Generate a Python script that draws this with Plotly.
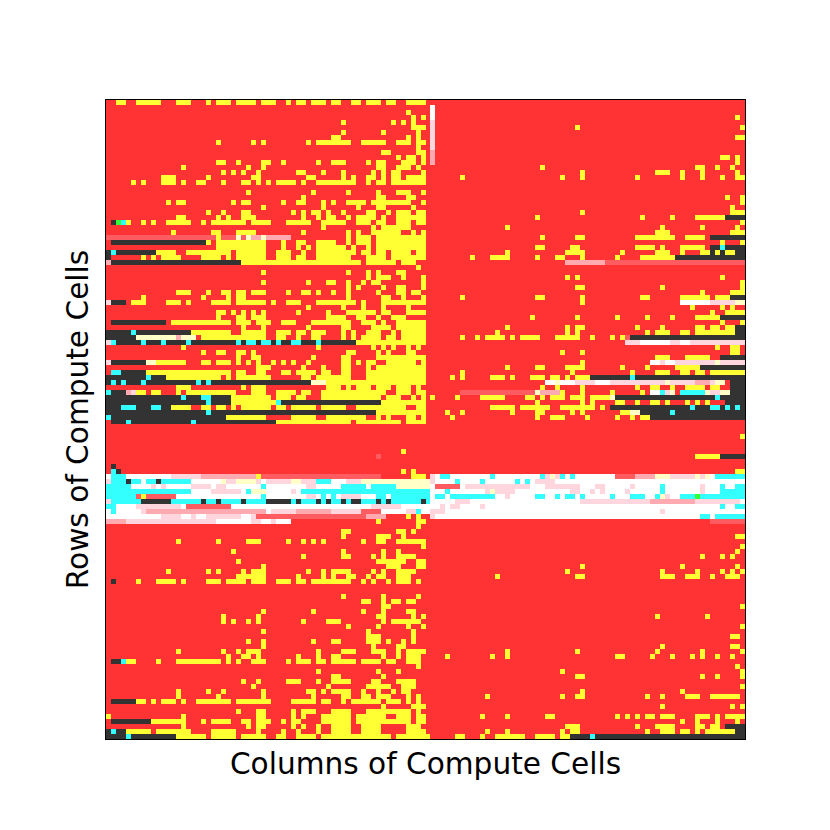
import re
import plotly.graph_objects as go

N_CELLS = 128
X_LABEL = "Columns of Compute Cells"
Y_LABEL = "Rows of Compute Cells"
STATES = ["R", "Y", "K", "C", "W", "P", "L", "M", "N", "G"]
STATE_COLORS = ["#ff3333", "#ffff33", "#333333", "#33ffff", "#ffffff",
                "#ffd6dd", "#ffaab0", "#ff5c62", "#ffffc8", "#33ff33"]

# Column numbers below were read on a ruler of 132 ticks across the frame;
# they are converted to the 128 real cell columns when the grid is filled.
RULER_TICKS = 132

# row -> runs of state codes (later runs override earlier ones)
ROW_RUNS = {
0: "Y2-3 Y6-10 Y14-16 Y20 Y23-25 Y27-30 Y32-34 Y37 Y39-40 Y42-44 Y46-47 Y50-51 Y53-56 Y58-59 Y62-65",
1: "W67",
2: "Y62 W67",
3: "Y63 Y65 W67 Y130",
4: "Y48 Y59 Y61 Y63 P67",
5: "Y63-65 P67 Y97 Y131",
6: "Y48 Y57 Y64 P67",
7: "Y46-47 Y62 Y64 P67 Y130-131",
8: "Y23 Y30 Y32 Y41 Y43-49 Y52-54 Y56-57 Y60-62 Y64-65 P67",
9: "Y64 P67",
10: "Y57-58 Y64-65 L67",
11: "Y60 Y62-63 Y65 L67 Y127-128 Y130",
12: "Y23-24 Y27 Y32-33 Y36 Y43 Y46-48 Y53 Y55-57 Y61-63 Y65 L67 Y130",
13: "Y15 Y29 Y32 Y56-57 Y60-62 Y64 Y90 Y122-123 Y126 Y129",
14: "Y24 Y26 Y28 Y31 Y39-40 Y44 Y48 Y54 Y57 Y59-60 Y65 Y98 Y113-115 Y118 Y123 Y130",
15: "Y11-13 Y20 Y30-31 Y41-42 Y48 Y50 Y53-54 Y57 Y59-60 Y62-65 Y73 Y94 Y98 Y109 Y118 Y123 Y127 Y130-131",
16: "Y5 Y7 Y11-13 Y15 Y18-19 Y24 Y28-29 Y31 Y33 Y35-38 Y40 Y43-50 Y53 Y55-57 Y59-65",
18: "Y29 Y42 Y49 Y56 Y60-62 Y65",
19: "Y40 Y56-57 Y62-63 Y128 Y131",
20: "Y12 Y14-15 Y26 Y28-29 Y36 Y39-40 Y44 Y46 Y49-52 Y54-62 Y65 Y131",
21: "Y32 Y44 Y51 Y56-57 Y63 Y129",
22: "Y20 Y24 Y28-29 Y38 Y40 Y42-43 Y45 Y48 Y53-54 Y58 Y60-62 Y64-65 Y98 Y129-131",
23: "Y14-15 Y23-25 R24 Y28-30 Y40 Y43 Y45-46 Y49 Y51-53 Y54 Y57 Y60-65 Y88-89 Y110 Y116 Y122-127 K128-131",
24: "K1 G2 C3 Y4 Y7 Y9 Y12-16 Y19 Y21-28 Y30-33 Y37-41 Y44-48 Y51-53 Y55 Y57 Y60-62 Y64-65 Y131",
25: "Y44 Y54 Y57 Y58-62 Y82 Y114 Y123 Y130",
26: "Y13 Y21-22 Y27-30 Y40 Y49 Y51 Y54 Y56-60 Y63 Y65 Y113-115 Y129-131",
27: "M0-22 Y23 M24-26 N27 M28 N29 L30-31 N32 L33-37 Y49 Y51-53 Y56-62 Y63-65 Y90 Y97-98 Y109-111 Y112-116 Y119-123 K125-131",
28: "K1-19 Y20 Y23-32 Y36 Y39-40 Y43-46 Y49 Y51-53 Y55-65 Y127 Y131",
29: "Y23-32 Y36 Y39 Y41 Y43-48 Y50 Y53 Y55-65 Y89-90 Y96-97 Y109-111 Y112 Y114 Y118-123 K125-126 C127 K128-131",
30: "K0 C1 K2-9 Y10-13 Y16-22 Y24 Y25 Y27-32 Y35-37 Y40 Y43-50 Y52-53 Y55-57 Y59-62 Y64-65 Y82 Y95-98 Y106 Y113-115 Y118 Y123-124 K125 Y126 K127 Y128-129 K130-131",
31: "K0 Y7 Y9 Y11-13 Y14 Y19-21 Y23 Y25 Y27-32 Y35-37 Y39-40 Y43-49 Y53-54 Y56-57 Y59-65 Y75 Y79-82 Y89 Y93-94 Y98 Y105 Y110-116 K117-131",
32: "L0 K1-27 Y28-51 Y53-59 Y61-63 L95-102 M103-131",
33: "Y64",
34: "Y32 Y49 Y53 Y56 Y60-61",
35: "Y53 Y56-58 Y61 Y65 Y95 Y97 Y127",
36: "Y32 Y41 Y45-46 Y49 Y52 Y54-56 Y65 Y131",
37: "Y49 Y51 Y57 Y60-61 Y65 Y97-98 Y114 Y131",
38: "Y14-16 Y20 Y24-25 Y27-28 Y30-32 Y37 Y40-41 Y43 Y46 Y49 Y55-56 Y60-61 Y63-64 Y123 Y129-131",
39: "Y7 Y19 Y25 Y27-28 Y49 Y57-58 Y61 Y65 Y73 Y89-90 Y98 Y110-111 Y118-121 Y123-124 Y126-128 K129-131",
40: "P0 K1-3 Y5-7 Y12-14 Y16 Y21 Y23-25 Y27-32 Y34 Y37-39 Y43-50 Y52 Y57-65 Y98 W118-124 P125-129 N130-131",
41: "Y41 Y48 Y52 Y57 Y62 Y120 Y127 Y129",
42: "Y22-24 Y26 Y28 Y30 Y32 Y39 Y45 Y49-54 Y57-58 Y62-65 Y125 Y128-131",
43: "Y23 Y27-28 Y30-32 Y45-48 Y51-52 Y55-56 Y59-61 Y87 Y97 Y105 Y111 Y116 Y122-126 K127-131",
44: "K1-11 Y13-25 Y27-29 Y31-33 Y36-38 Y42-49 Y52-54 Y57 Y60-65 Y127 Y131",
45: "Y28 Y32 Y41 Y48-49 Y54-58 Y60-65 Y82 Y95 Y97-98 Y109 Y114 Y122-123 Y125-126 Y128-129 K130-131",
46: "K0-4 C5 K6-16 Y17-21 Y23-25 Y28-32 Y35-37 Y39-40 Y42-44 Y48 Y50 Y53-56 Y59 Y61-65 Y80 Y95 Y97 Y111 Y113-115 Y118-119 Y122-129 K130-131",
47: "K0-5 N6-13 L14 N15-16 N17 Y19-22 Y24-32 Y35-36 Y39 Y42-43 Y48 Y50 Y52-55 Y58-59 Y61-65 Y73 Y76 Y78-81 Y83 Y85-87 Y88-89 Y93-97 Y100 Y104 Y106 M107 K108-131",
48: "P0 C1 K2-6 C7 K8-10 C11 K12-15 C16 K17-26 C27 K28 C29-30 K31 C32-33 K34 C35 K36-37 C38-39 K40-42 C43 K44-50 Y51-65 P107-109 W110-115 P116-117 W118-119 P120-131",
49: "Y15 Y43 Y54 Y57 Y59 Y62 Y64 Y126 Y129-130",
50: "Y19 Y23-24 Y27-28 Y30 Y49-50 Y55 Y58 Y62-63 Y94 Y98 Y129-130",
51: "Y27 Y30-31 Y42 Y48-49 Y55 Y57-65 Y113-115 Y119-124 K127-131",
52: "P0 K1-7 N8-9 Y10-13 Y14-15 Y19 Y20 Y23-25 Y27 Y29 Y31 Y34 Y36 Y38 Y41 Y48-49 Y51 Y53-54 Y58-63 Y65 Y98 W112-113 P114 W115-116 P117-125 N126 P127-131",
53: "Y31-33 Y40 Y44 Y48-49 Y53 Y56-65 Y82 Y88 Y90 Y95-98 Y106 Y111 Y117-122 K123-131",
54: "C1-2 K3-7 Y8-22 Y24-25 Y27-28 Y31-32 Y36-37 Y39-42 Y44-45 Y48-49 Y53-65 Y73 Y96 Y108 Y113-115 Y118-119 Y121-123 Y125-131",
55: "K0-7 C8 K9-11 Y12-22 Y25 Y27-33 Y40-41 Y43-49 Y53-65 Y71 Y73 Y79-81 Y83 Y87 Y89-90 Y92-93 Y95 Y97-99 K100-107 C108 K109-131",
56: "K0 C1 K2 C3 K4-6 C7 K8-17 C18 K19 C20 K21-41 N42-44 Y45-65 W91-92 N93 W94-96 P97-100 W101-103 P104-114 N115 P116-121 L122-124 P125 N126 P127 N127 K129-131",
57: "Y14-16 Y28 Y30-32 Y45-47 Y49 Y51-53 Y56-58 Y60-62 Y64 Y90 Y93 Y98 Y109 Y112-113 Y116 Y119-123 Y125-126 K129-131",
58: "C0 K1-3 L4 P5 Y6-7 Y9-10 Y14 Y16-26 Y30-32 Y35-38 Y40-41 Y44-57 Y60-62 Y64-65 M73-88 N89 L90-93 Y94 Y98 Y104 Y110 W112-113 C114 P115 N116 C118-123 N124 P125-126 N127-128 K129-131",
59: "K0-14 C15 K16-18 C19-20 K21-25 Y26-33 Y35-37 Y39-40 Y44-55 Y58-60 Y63 Y65 Y67 Y72 Y77-81 Y86-87 Y90 Y92-94 Y96-98 Y100-103 N104 K105-125 C126 K127-131",
60: "K0-19 C20 K21-25 Y26-34 C35 K36-56 Y57-65 Y89 Y98 Y100 Y105-106 Y109 Y112-113 Y115 Y119 Y121-122 Y124 K128-131",
61: "K0-2 C3-5 K6-8 C9-10 K11-12 Y13-16 Y19-20 Y22-24 Y26 Y28-33 Y35-36 Y38-42 Y44-48 Y51-61 Y64-65 Y79-83 Y85-87 Y89-91 Y94-100 Y102 K104-119 C120-121 K122-124 C125-126 K127 C128 K129 C130 K131",
62: "K0-19 C20 K21-54 Y55-65 Y70 Y73 Y83 Y89-90 Y96 Y98 Y106-107 N108-109 K110-115 C116 K117-131",
63: "C0 K1-24 Y25-32 Y38 Y39-42 Y45-52 Y56 Y58 Y62-63 Y65 Y71 Y88-89 Y92-94 Y99 Y105 Y108 Y110-111 K112-120 C121 K122-131",
64: "K1-3 C4 K5-16 C17 K18-34 Y35-49 Y51-60 Y62-65",
67: "Y131",
70: "Y61",
71: "M55-56 Y122-126 K127-131",
73: "K1",
74: "C1 K2 Y61 Y63 Y130-131",
75: "W0-65 C1-3 P13-18 L19-30 Y31 M32-56 R57-62 Y63-65 P67 W68-131 C69-70 C79 C90 P91 N92 P93 C94 C96 M105-108 L109-112 N113-115 P116-121 N122 P123 N124 C126-131",
76: "W0-131 P0 C1-3 K4 C5-6 C8-9 K10 C11-16 N24 P25-26 N27-30 P31 P33-37 N38-39 P40-42 C43-45 P49-51 N52-65 N66 P67 C72 C77 C84 C86 P88-92",
77: "W0-131 C0-4 P9 P11 P17-20 P23-24 C32 P41-42 C48-52 C54-59 N60-65 N66 M68-72 P74-86 P91-97 P101-102 P108 C114 P123 C127 C130-131",
78: "W0-131 C0-16 P21-27 C29 N30-32 P38 C40-65 C66 C70 P78-83 N79 P96-97 P100 P102 P107 C114 P123 C127-131",
79: "W0-131 C0-5 M6 Y7 M8-13 C32 P41-42 C44 C46 P48-51 C55-57 C59-65 C66 C68-69 C71-79 P82 C88-90 C93 C95-96 C98 C104 C108-110 C113 N114 P115 C118-121 G122 C123-131",
80: "P0 C1-6 K7-12 C13-18 K19 C20-22 K23 C24-27 K28 C29-32 K33-37 C38 K39 C40-42 K43 C44 K45 C46-47 K48 C49 K50-51 C52-55 K56 C57 K58 C59-64 K65 C66 W67-131 P72-74 P98-111 L112-120 P121-130",
81: "W0-131 C0-1 P6-14 M16-25 P54-60 P69 P71-72 P77 C127 C130-131",
82: "W0-131 C1 P7 L8-32 P34-35 P36-38 L39-45 P46-51 M52-55 P62-63 C64 P67-69 P114",
83: "W0-131 P11-14 P17 P20-27 P30 M31-52 L53-57 R58-61 Y62 R63 Y64 R65-66 P67 C123-124 C126-131",
84: "L0-3 P4-22 W23-29 P30-31 W32-33 P34 W35-37 Y56 Y64-65 M125-131",
85: "Y64",
86: "Y48-49 Y60-61 Y63",
87: "Y48 Y56-58 Y61 Y130-131",
88: "Y14 Y23 Y29-31 Y37 Y40 Y42 Y44 Y52 Y55-57 Y60-65",
89: "Y65 Y131",
90: "Y26 Y48 Y57 Y60 Y130",
91: "Y40 Y48-49 Y54 Y57 Y60-63 Y123 Y127 Y129",
92: "Y27 Y56-61 Y64-65",
93: "Y32 Y58-60 Y64-65 Y98 Y118 Y130",
94: "Y12 Y20 Y23 Y28 Y30-32 Y41 Y44 Y46-49 Y54 Y57 Y60-63 Y95 Y114 Y121-122 Y127 Y129 Y131",
95: "Y27-28 Y29-32 Y39 Y44 Y46 Y49-50 Y53 Y55 Y57 Y60-62 Y80 Y97-98 Y114-116 Y119-122 Y125 Y128-130",
96: "K1 Y6 Y10-13 Y15 Y20-22 Y25-28 Y30-32 Y35-37 Y39-40 Y42-49 Y52 Y54 Y58 Y60-62 Y64",
99: "Y48 Y57 Y64",
100: "Y52-53 Y57 Y59-60 Y62-63",
101: "Y57-58 Y131",
102: "Y32 Y42 Y52 Y57 Y62-63",
103: "Y24 Y31 Y56-57 Y63 Y65 Y113 Y124",
104: "Y24 Y26 Y29 Y31 Y40 Y45-47 Y57 Y59-64",
105: "Y49 Y56 Y62 Y65 Y131",
106: "Y32 Y53 Y63",
107: "Y53-56 Y63 Y129-130",
108: "Y29 Y32 Y42 Y46-47 Y53-56 Y58 Y61 Y63",
109: "Y32 Y54 Y60-61 Y114 Y129-130",
110: "Y14 Y24 Y27 Y29-31 Y43 Y48-50 Y54-57 Y60 Y62-65 Y82 Y97 Y113 Y123 Y131",
111: "Y25 Y28-29 Y31 Y39 Y43 Y46-47 Y57 Y60 Y62-64 Y70 Y79 Y82 Y105-106 Y112 Y116 Y120 Y123 Y126 Y129",
112: "K1-2 C3 Y4-5 Y10 Y14-21 Y23 Y25 Y27 Y30-32 Y37 Y39-41 Y43-44 Y46-50 Y52-56 Y58-59 Y62-64",
113: "Y64 Y130",
114: "Y43 Y56 Y60 Y94 Y131",
115: "Y46-47 Y57 Y97-98 Y123 Y126 Y131",
116: "Y28 Y31 Y37-39 Y43 Y46-49 Y54-56 Y60-63",
117: "Y30 Y45 Y53-55 Y57-58 Y61-63 Y131",
118: "Y14 Y20 Y24 Y32 Y41-42 Y44 Y46-49 Y52 Y55-56 Y59 Y61-62 Y98 Y118",
119: "Y14 Y23 Y32 Y42 Y48-49 Y52-53 Y56-58 Y62 Y64 Y78 Y94 Y97-98 Y111 Y114 Y119-122 Y125-130",
120: "K1-5 Y6-7 Y9 Y11-13 Y15 Y18-22 Y24-25 Y27-33 Y38-42 Y44-45 Y48 Y50-53 Y54-55 Y58-60 Y62 Y64",
121: "Y57 Y63-65 Y114 Y129 Y131",
122: "Y27 Y31-32 Y38 Y40-42 Y46-49 Y53-54 Y56-62 Y64",
123: "Y0 Y15 Y31-32 Y38 Y40 Y44-49 Y51-55 Y57 Y60-62 Y64-65 Y77 Y82 Y91-92 Y105 Y107 Y109 Y111-112 Y114-116 Y121-124 Y126 Y128-131",
124: "K1-8 Y9-14 Y15 Y19 Y21-25 Y28-29 Y31-33 Y36 Y38-39 Y44-49 Y51-62 Y64-65 Y118 Y121 Y126 Y130",
125: "Y15 Y29 Y31-32 Y38 Y40 Y43 Y46-49 Y52-55 Y62-64 Y95-97 Y109 Y113-116 Y122-123 Y125-126 K128-131",
126: "K0-3 C1 Y4-8 Y10-13 Y14-16 Y21-26 Y31 Y36 Y39 Y43 Y46-49 Y52-56 Y62-65 Y78 Y82 Y94 Y96-97 Y111 Y114-116 Y118-119 Y122 Y124-129 K130-131",
127: "K0-3 C4 K5-13 Y14-19 Y21-22 Y24-26 Y28-32 Y35-36 Y39-42 Y44-58 Y60-65 Y66 Y72-73 Y77 Y80-85 Y88-92 Y94-95 K96-99 C100 K101-131",
}


def column_of(tick):
    return int((1 + 640 / RULER_TICKS * (tick + 0.5)) // 5)


z = [[0] * N_CELLS for _ in range(N_CELLS)]
for row, runs in ROW_RUNS.items():
    for code, a, b in re.findall(r"([A-Z])(\d+)(?:-(\d+))?", runs):
        first = column_of(int(a))
        last = column_of(int(b)) if b else first
        for col in range(first, last + 1):
            z[row][col] = STATES.index(code)

n = len(STATES)
colorscale = []
for i, c in enumerate(STATE_COLORS):
    colorscale += [[i / n, c], [(i + 1) / n, c]]

fig = go.Figure(go.Heatmap(z=z, zmin=0, zmax=n, colorscale=colorscale,
                           showscale=False, hoverinfo="skip"))
axis = dict(showticklabels=False, ticks="", showgrid=False, zeroline=False,
            showline=True, linecolor="#000000", linewidth=1.3, mirror=True)
fig.update_xaxes(range=[-0.5, N_CELLS - 0.5],
                 title=dict(text=X_LABEL, font=dict(size=29.6), standoff=14), **axis)
fig.update_yaxes(range=[N_CELLS - 0.5, -0.5],
                 title=dict(text=Y_LABEL, font=dict(size=29.6), standoff=7), **axis)
fig.update_layout(width=830, height=830, paper_bgcolor="white", plot_bgcolor="white",
                  margin=dict(l=98, r=93, t=92, b=99),
                  font=dict(family="DejaVu Sans", color="#000000"))
fig.write_html("out.html")
